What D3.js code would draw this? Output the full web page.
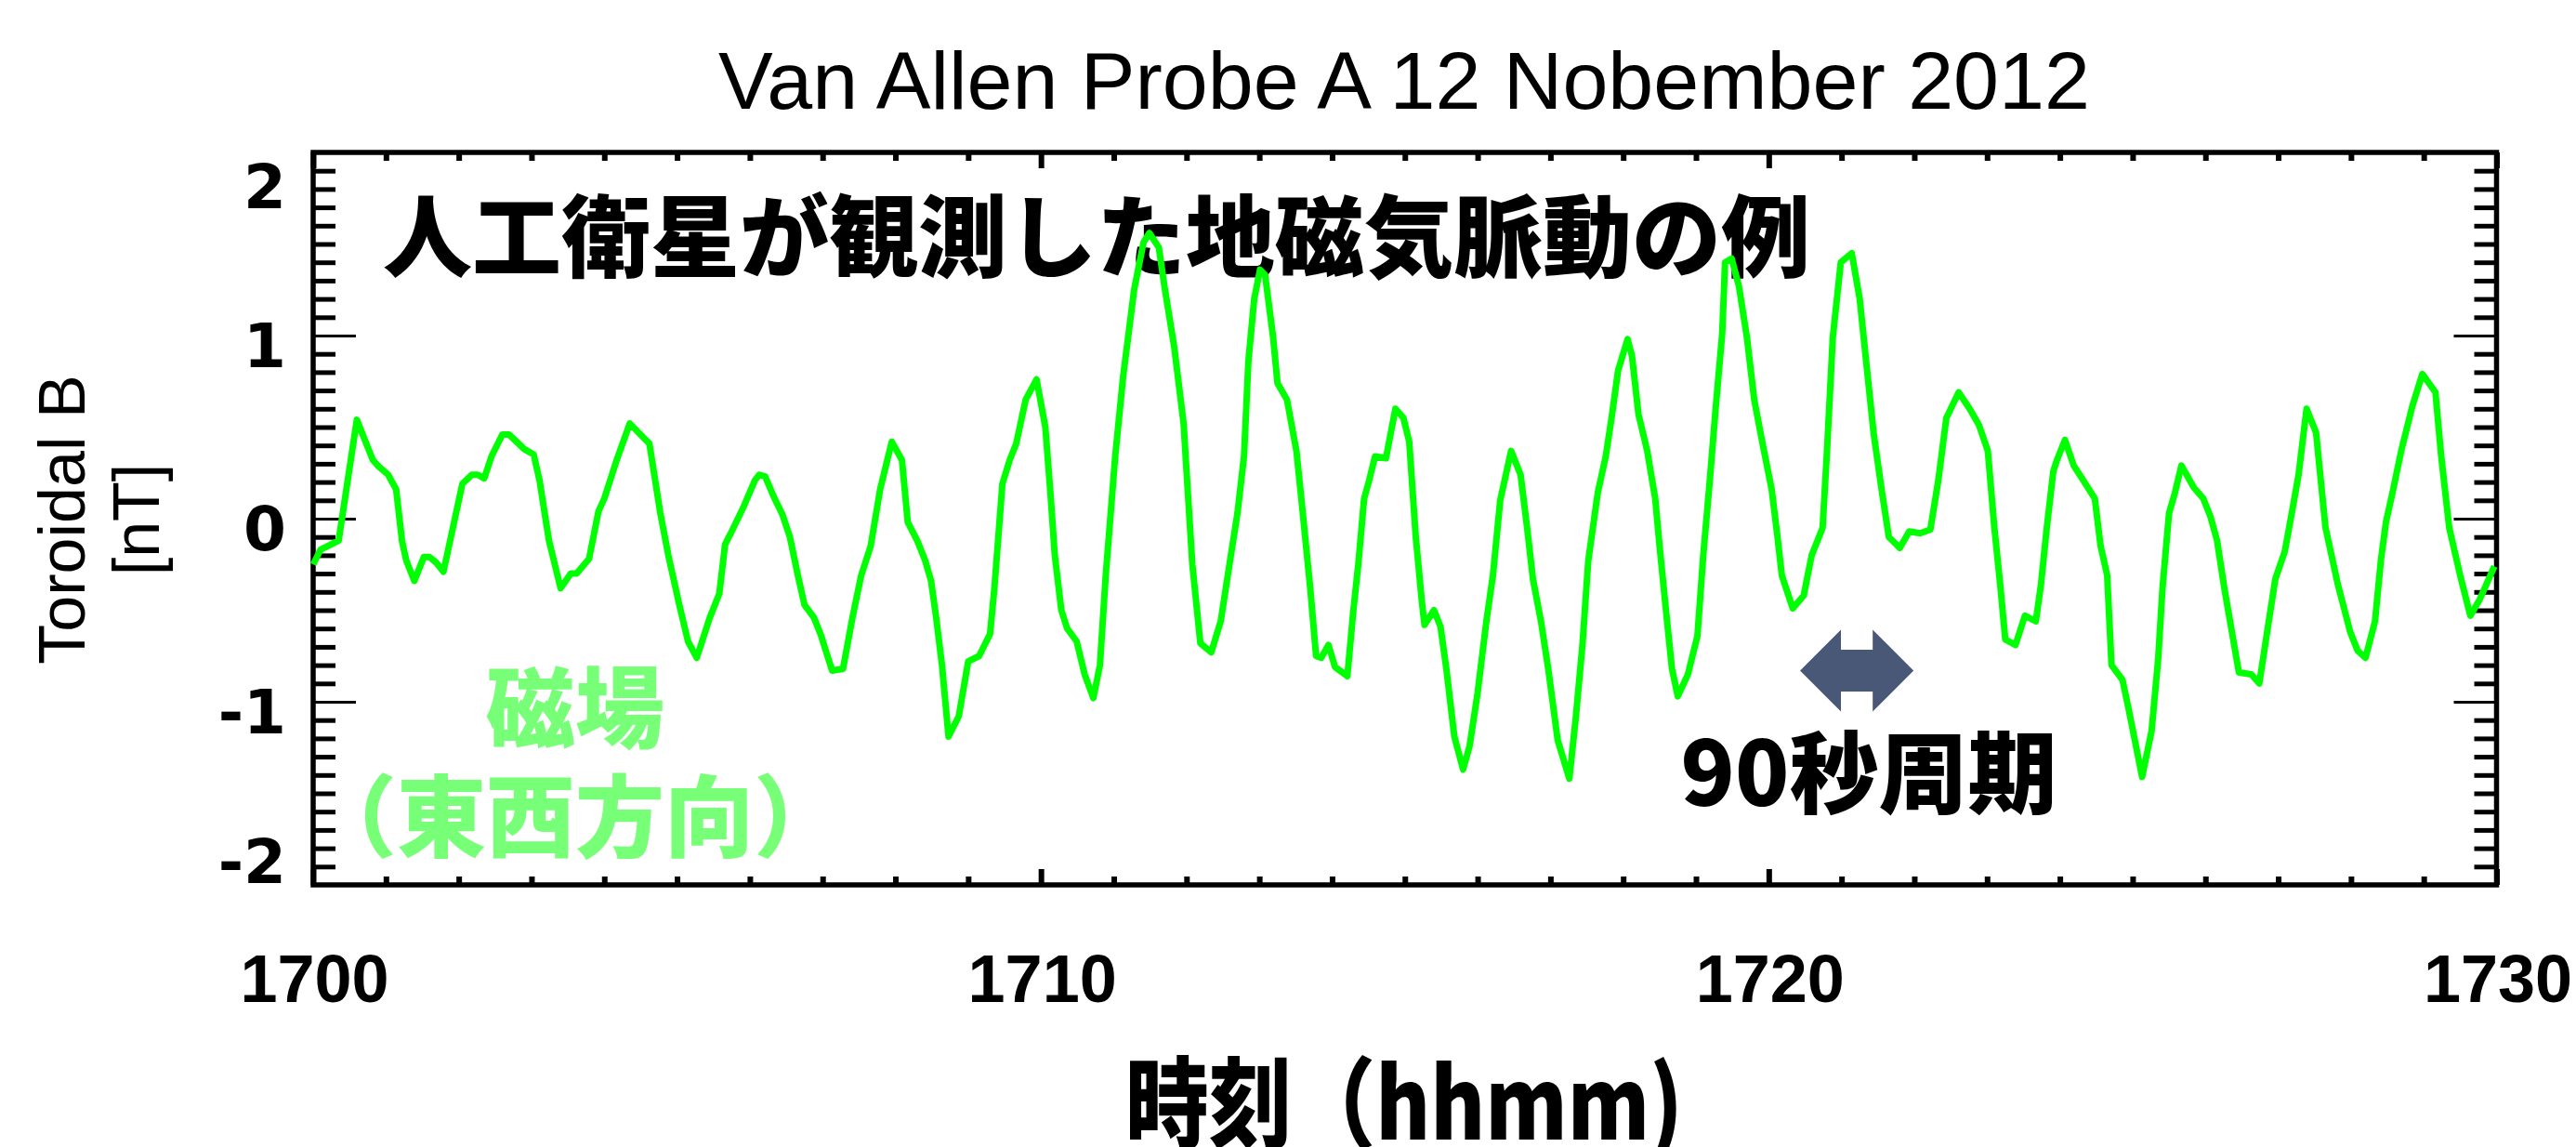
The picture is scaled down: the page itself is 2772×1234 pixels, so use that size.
<!DOCTYPE html>
<html><head><meta charset="utf-8">
<script src="https://cdn.jsdelivr.net/npm/d3@7"></script>
<style>html,body{margin:0;padding:0;background:#fff;} svg{display:block}</style>
</head><body>
<svg id="chart" width="2772" height="1234"></svg>
<script>
// ---- data (minutes after 17:00 UT, Toroidal B in nT) ----
const timeMin = [0.00,0.10,0.35,0.60,0.82,0.90,1.03,1.14,1.22,1.28,1.39,1.52,1.60,1.69,1.79,2.05,2.18,2.26,2.35,2.45,2.60,2.69,2.90,3.03,3.11,3.24,3.32,3.40,3.54,3.62,3.79,3.92,4.00,4.17,4.35,4.52,4.62,4.77,4.88,5.03,5.15,5.27,5.45,5.58,5.66,5.75,
5.92,6.07,6.13,6.21,6.34,6.45,6.55,6.66,6.75,6.88,6.98,7.13,7.28,7.41,7.53,7.66,7.79,7.95,8.09,8.17,8.30,8.41,8.49,8.56,8.64,8.73,8.87,9.00,9.15,9.30,9.36,9.47,9.57,9.66,9.79,9.94,10.06,10.13,10.19,10.28,10.36,10.49,10.60,10.72,10.81,10.89,11.02,11.13,11.28,11.41,11.49,11.62,11.70,11.83,11.96,
12.00,12.08,12.19,12.34,12.47,12.59,12.70,12.79,12.85,12.93,13.01,13.08,13.19,13.25,13.38,13.51,13.59,13.70,13.78,13.85,13.95,14.04,14.21,14.29,14.36,14.44,14.51,14.59,14.74,14.87,14.98,15.06,15.15,15.23,15.27,15.40,15.49,15.57,15.68,15.80,15.89,16.00,16.12,16.21,16.31,16.46,16.59,16.68,16.76,16.87,16.97,17.10,17.26,17.35,17.44,17.52,17.65,17.76,17.84,17.93,
18.06,18.12,18.21,18.33,18.44,18.50,18.59,18.67,18.75,18.89,19.02,19.10,19.19,19.27,19.36,19.40,19.49,19.59,19.70,19.80,19.91,20.04,20.12,20.18,20.33,20.48,20.59,20.74,20.80,20.88,20.99,21.14,21.25,21.33,21.44,21.55,21.65,21.80,21.93,22.08,22.22,22.33,22.44,22.61,22.76,22.89,23.01,23.10,23.18,23.25,23.39,23.52,23.67,23.74,23.82,23.91,
23.96,24.07,24.19,24.32,24.48,24.56,24.65,24.71,24.86,24.94,25.03,25.13,25.26,25.35,25.41,25.50,25.58,25.67,25.84,25.97,26.07,26.16,26.26,26.46,26.63,26.74,26.84,26.96,27.09,27.20,27.28,27.35,27.39,27.52,27.65,27.82,27.99,28.09,28.20,28.33,28.41,28.48,28.58,28.69,28.84,28.98,29.16,29.24,29.35,29.50,29.64,29.77,29.97];
const bToroidal = [-0.25,-0.17,-0.12,0.54,0.32,0.285,0.24,0.16,-0.12,-0.23,-0.34,-0.21,-0.21,-0.24,-0.29,0.19,0.24,0.24,0.22,0.34,0.46,0.46,0.38,0.35,0.21,-0.12,-0.25,-0.38,-0.30,-0.30,-0.22,0.04,0.11,0.32,0.52,0.45,0.41,0.03,-0.20,-0.47,-0.67,-0.76,-0.54,-0.41,-0.14,-0.07,
0.07,0.21,0.24,0.23,0.11,0.02,-0.10,-0.31,-0.47,-0.54,-0.64,-0.83,-0.82,-0.54,-0.31,-0.15,0.16,0.42,0.32,-0.02,-0.12,-0.23,-0.34,-0.54,-0.80,-1.19,-1.08,-0.78,-0.75,-0.63,-0.38,0.19,0.32,0.41,0.65,0.76,0.50,0.14,-0.20,-0.50,-0.60,-0.67,-0.85,-0.98,-0.80,-0.31,0.34,0.78,1.25,1.51,1.56,1.48,1.26,0.94,0.52,
0.26,-0.25,-0.68,-0.73,-0.56,-0.25,0.03,0.34,0.86,1.20,1.36,1.33,0.99,0.74,0.65,0.37,0.06,-0.38,-0.75,-0.76,-0.69,-0.81,-0.86,-0.51,-0.25,0.11,0.21,0.34,0.33,0.60,0.55,0.42,-0.10,-0.44,-0.58,-0.50,-0.59,-0.82,-1.19,-1.37,-1.24,-0.95,-0.56,-0.31,0.10,0.37,0.24,-0.05,-0.33,-0.56,-0.82,-1.21,-1.42,-1.08,-0.69,-0.23,0.14,0.34,0.55,0.81,
0.98,0.89,0.57,0.37,0.11,-0.15,-0.51,-0.82,-0.97,-0.85,-0.64,-0.20,0.21,0.60,1.01,1.40,1.42,1.27,0.99,0.65,0.42,0.16,-0.10,-0.31,-0.49,-0.42,-0.20,-0.05,0.37,0.99,1.40,1.45,1.20,0.89,0.47,0.16,-0.10,-0.16,-0.07,-0.08,-0.06,0.21,0.55,0.69,0.60,0.51,0.37,-0.05,-0.36,-0.66,-0.69,-0.53,-0.56,-0.36,-0.05,0.26,
0.32,0.43,0.29,0.21,0.11,-0.15,-0.31,-0.80,-0.88,-1.03,-1.21,-1.41,-1.16,-0.77,-0.38,0.03,0.14,0.29,0.17,0.11,0.01,-0.12,-0.38,-0.84,-0.85,-0.90,-0.64,-0.33,-0.18,0.06,0.24,0.47,0.60,0.47,-0.05,-0.36,-0.62,-0.72,-0.76,-0.56,-0.23,-0.02,0.16,0.37,0.61,0.79,0.69,0.34,-0.05,-0.31,-0.53,-0.44,-0.26];

const xTickMinutes = [0, 10, 20, 30];
const xTickLabels = ["1700", "1710", "1720", "1730"];
const yTickValues = [-2, -1, 0, 1, 2];
const yTickLabels = ["-2", "-1", "0", "1", "2"];
const titleText = "Van Allen Probe A 12 Nobember 2012";
const jpTitle = "人工衛星が観測した地磁気脈動の例";
const yTitleLines = ["Toroidal B", "[nT]"];
const xTitle = "時刻（hhmm)";
const fieldLabel = ["磁場", "（東西方向）"];
const periodLabel = "90秒周期";
const periodArrow = {start: 20.43, end: 21.99, value: -0.83}; // minutes, nT

// ---- layout ----
const W = 2772, H = 1234;
const PL = 337, PR = 2686.5, PT = 164, PB = 952;
const svg = d3.select("#chart");
svg.append("rect").attr("width", W).attr("height", H).attr("fill", "#fff");

const x = d3.scaleLinear().domain([0, 30]).range([PL, PR]);
const y = d3.scaleLinear().domain([-2, 2]).range([PB, PT]);

const xMinor = d3.range(0, 31).filter(d => d % 10 !== 0);
const yMinor = d3.range(-20, 21).filter(d => d % 10 !== 0).map(d => d / 10);

function ticks(axisFn, scale, values, len, width, tx, ty) {
  const g = svg.append("g").attr("transform", `translate(${tx},${ty})`)
    .call(axisFn(scale).tickValues(values).tickSize(-len).tickFormat(""));
  g.select(".domain").remove();
  g.selectAll(".tick text").remove();
  g.selectAll(".tick line").attr("stroke", "#000").attr("stroke-width", width);
  return g;
}
// x ticks (bottom & top, inward)
ticks(d3.axisBottom, x, xMinor, 9, 6, 0, PB);
ticks(d3.axisBottom, x, xTickMinutes, 17, 6, 0, PB);
ticks(d3.axisTop, x, xMinor, 9, 6, 0, PT);
ticks(d3.axisTop, x, xTickMinutes, 17, 6, 0, PT);
// y ticks (left & right, inward)
ticks(d3.axisLeft, y, yMinor, 24, 5, PL, 0);
ticks(d3.axisLeft, y, yTickValues, 46, 3, PL, 0);
ticks(d3.axisRight, y, yMinor, 24, 5, PR, 0);
ticks(d3.axisRight, y, yTickValues, 46, 3, PR, 0);

// frame
svg.append("rect").attr("x", PL).attr("y", PT).attr("width", PR - PL).attr("height", PB - PT)
  .attr("fill", "none").attr("stroke", "#000").attr("stroke-width", 5.5);

// y tick labels
svg.append("g").selectAll("text").data(yTickValues).join("text")
  .attr("x", 308)
  .attr("y", d => d === 2 ? y(d) + 60 : (d === -2 ? y(d) - 2 : y(d) + 34))
  .attr("text-anchor", "end")
  .attr("font-family", "DejaVu Sans, sans-serif").attr("font-weight", "bold").attr("font-size", 66)
  .text((d, i) => yTickLabels[i]);

// x tick labels
svg.append("g").selectAll("text").data(xTickMinutes).join("text")
  .attr("x", d => x(d) + 1.5).attr("y", 1078)
  .attr("text-anchor", "middle")
  .attr("font-family", "Liberation Sans, Arial, sans-serif").attr("font-weight", "bold").attr("font-size", 72)
  .text((d, i) => xTickLabels[i]);

// title
svg.append("text").attr("x", 1511).attr("y", 117).attr("text-anchor", "middle")
  .attr("font-family", "Liberation Sans, Arial, sans-serif").attr("font-size", 88)
  .text(titleText);

// y title (rotated)
const yt = svg.append("text").attr("transform", "translate(0,559) rotate(-90)")
  .attr("text-anchor", "middle")
  .attr("font-family", "Liberation Sans, Arial, sans-serif").attr("font-size", 70);
yt.append("tspan").attr("x", 0).attr("y", 91).text(yTitleLines[0]);
yt.append("tspan").attr("x", 0).attr("y", 171).text(yTitleLines[1]);

// Japanese annotations
const jp = "Noto Sans CJK JP, Noto Sans CJK SC, sans-serif";
svg.append("text").attr("x", 1180).attr("y", 290).attr("text-anchor", "middle")
  .attr("font-family", jp).attr("font-weight", 900).attr("font-size", 96).attr("fill", "#000")
  .text(jpTitle);
svg.append("text").attr("x", 619).attr("y", 797).attr("text-anchor", "middle")
  .attr("font-family", jp).attr("font-weight", 900).attr("font-size", 96).attr("fill", "#78ff78")
  .text(fieldLabel[0]);
svg.append("text").attr("x", 619).attr("y", 914).attr("text-anchor", "middle")
  .attr("font-family", jp).attr("font-weight", 900).attr("font-size", 96).attr("fill", "#78ff78")
  .text(fieldLabel[1]);
svg.append("text").attr("x", 2011).attr("y", 867).attr("text-anchor", "middle")
  .attr("font-family", jp).attr("font-weight", 900).attr("font-size", 96).attr("fill", "#000")
  .text(periodLabel);

// double arrow
{
  const x0 = x(periodArrow.start), x1 = x(periodArrow.end), cy = y(periodArrow.value);
  const hh = 44, sh = 22.5, hl = 44;
  const pts = [[x0, cy], [x0 + hl, cy - hh], [x0 + hl, cy - sh], [x1 - hl, cy - sh], [x1 - hl, cy - hh],
               [x1, cy], [x1 - hl, cy + hh], [x1 - hl, cy + sh], [x0 + hl, cy + sh], [x0 + hl, cy + hh]];
  svg.append("path").attr("d", "M" + pts.map(p => p.join(",")).join("L") + "Z").attr("fill", "#4a5878");
}

// x title
svg.append("text").attr("x", 1511).attr("y", 1226).attr("text-anchor", "middle")
  .attr("font-family", jp).attr("font-weight", 900).attr("font-size", 106)
  .attr("textLength", 600).attr("lengthAdjust", "spacingAndGlyphs")
  .text(xTitle);

// data line
const line = d3.line().x((d, i) => x(timeMin[i])).y(d => y(d));
svg.append("path").datum(bToroidal).attr("d", line)
  .attr("fill", "none").attr("stroke", "#00ff00").attr("stroke-width", 7)
  .attr("stroke-linejoin", "round");
</script>
</body></html>
